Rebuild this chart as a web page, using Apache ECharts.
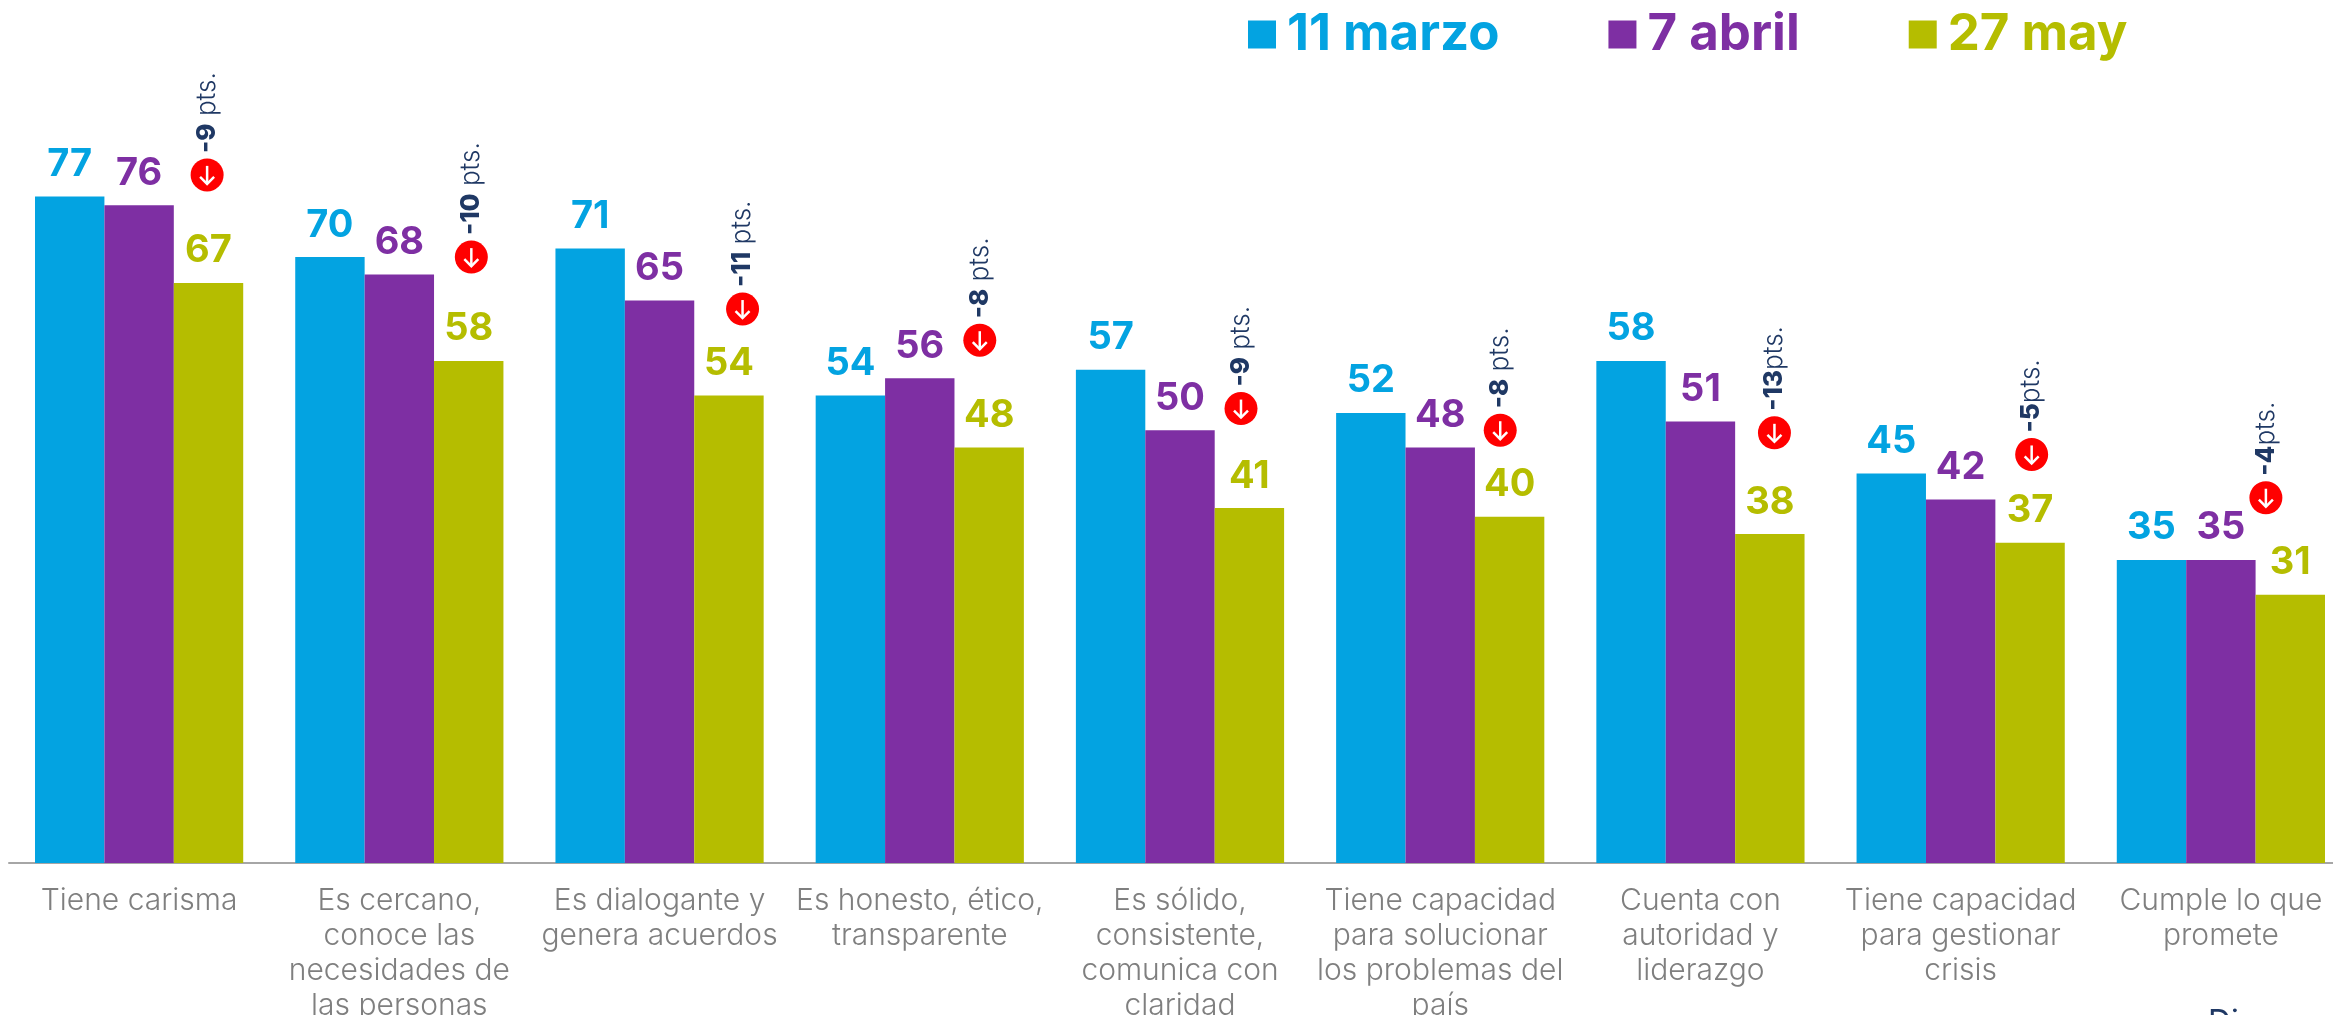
<!DOCTYPE html>
<html>
<head>
<meta charset="utf-8">
<style>
  html, body { margin: 0; padding: 0; background: #fff; }
  #chart { width: 2333px; height: 1015px; }
</style>
<script src="https://cdn.jsdelivr.net/npm/echarts@6/dist/echarts.min.js"></script>
</head>
<body>
<div id="chart"></div>
<script>
const categories = [
  'Tiene carisma',
  'Es cercano,\nconoce las\nnecesidades de\nlas personas',
  'Es dialogante y\ngenera acuerdos',
  'Es honesto, ético,\ntransparente',
  'Es sólido,\nconsistente,\ncomunica con\nclaridad',
  'Tiene capacidad\npara solucionar\nlos problemas del\npaís',
  'Cuenta con\nautoridad y\nliderazgo',
  'Tiene capacidad\npara gestionar\ncrisis',
  'Cumple lo que\npromete',
];
const marzo = [77, 70, 71, 54, 57, 52, 58, 45, 35];
const abril = [76, 68, 65, 56, 50, 48, 51, 42, 35];
const mayo = [67, 58, 54, 48, 41, 40, 38, 37, 31];
const deltas = ['-9', '-10', '-11', '-8', '-9', '-8', '-13', '-5', '-4'];
const deltaUnits = [' pts.', ' pts.', ' pts.', ' pts.', ' pts.', ' pts.', 'pts.', 'pts.', 'pts.'];
// altura del círculo rojo, en unidades del eje
const badgeLevels = [79.5, 70, 64, 60.4, 52.5, 50, 49.7, 47.2, 42.2];

// desplazamiento horizontal de cada círculo respecto al centro del grupo (px)
const badgeShiftX = [68, 72, 83, 60, 61, 60, 74, 71, 45];

const BLUE = '#03A3E1';
const PURPLE = '#7E2FA3';
const OLIVE = '#B5BD00';
const NAVY = '#1F3864';
const FONT = 'Inter, "Open Sans", sans-serif';

const barSeries = (name, data, color) => ({
  name,
  type: 'bar',
  data,
  barWidth: '26.67%',
  barGap: 0,
  itemStyle: { color },
  label: {
    show: true,
    position: 'top',
    distance: 13,
    color,
    fontFamily: FONT,
    fontWeight: 700,
    fontSize: 38,
  },
});

const legendItem = (name, color) => ({ name, textStyle: { color } });

const renderBadge = (params, api) => {
  const i = params.dataIndex;
  const [cx0, cy] = api.coord([i, api.value(1)]);
  const cx = cx0 + badgeShiftX[i];
  return {
    type: 'group',
    children: [
      { type: 'circle', shape: { cx, cy, r: 16.5 }, style: { fill: '#FF0000' } },
      {
        type: 'polyline',
        shape: { points: [[cx, cy - 9], [cx, cy + 9]] },
        style: { stroke: '#fff', lineWidth: 2.5, fill: null },
      },
      {
        type: 'polyline',
        shape: { points: [[cx - 7, cy + 2], [cx, cy + 9], [cx + 7, cy + 2]] },
        style: { stroke: '#fff', lineWidth: 2.5, fill: null },
      },
      {
        type: 'text',
        x: cx,
        y: cy - 22,
        rotation: Math.PI / 2,
        style: {
          text: `{b|${deltas[i]}}{r|${deltaUnits[i]}}`,
          align: 'left',
          verticalAlign: 'middle',
          rich: {
            b: { fontFamily: FONT, fontWeight: 800, fontSize: 26, fill: NAVY, color: NAVY },
            r: { fontFamily: FONT, fontWeight: 300, fontSize: 26, fill: NAVY, color: NAVY },
          },
        },
      },
    ],
  };
};

const chart = echarts.init(document.getElementById('chart'));
chart.setOption({
  animation: false,
  backgroundColor: '#fff',
  legend: {
    left: 1248,
    top: 9,
    padding: 0,
    icon: 'rect',
    itemWidth: 28,
    itemHeight: 28,
    itemGap: 109,
    selectedMode: false,
    data: [legendItem('11 marzo', BLUE), legendItem('7 abril', PURPLE), legendItem('27 may', OLIVE)],
    textStyle: { fontFamily: FONT, fontWeight: 700, fontSize: 51, padding: [0, 0, 0, 6] },
  },
  graphic: [{
    type: 'text',
    left: 2208,
    top: 1007,
    style: { text: 'Di', fontFamily: FONT, fontSize: 32, fontWeight: 400, fill: NAVY },
  }],
  grid: { left: 9, right: -18, top: 84, bottom: 152, outerBoundsMode: 'none' },
  xAxis: {
    type: 'category',
    data: categories,
    axisLine: { lineStyle: { color: '#A6A6A6', width: 2 } },
    axisTick: { show: false },
    axisLabel: {
      interval: 0,
      margin: 20,
      color: '#7F7F7F',
      fontFamily: FONT,
      fontWeight: 300,
      fontSize: 30,
      lineHeight: 35,
    },
  },
  yAxis: { type: 'value', min: 0, max: 90, show: false },
  series: [
    barSeries('11 marzo', marzo, BLUE),
    barSeries('7 abril', abril, PURPLE),
    barSeries('27 may', mayo, OLIVE),
    {
      type: 'custom',
      renderItem: renderBadge,
      data: badgeLevels.map((v, i) => [i, v]),
      silent: true,
      z: 5,
    },
  ],
});
</script>
</body>
</html>
